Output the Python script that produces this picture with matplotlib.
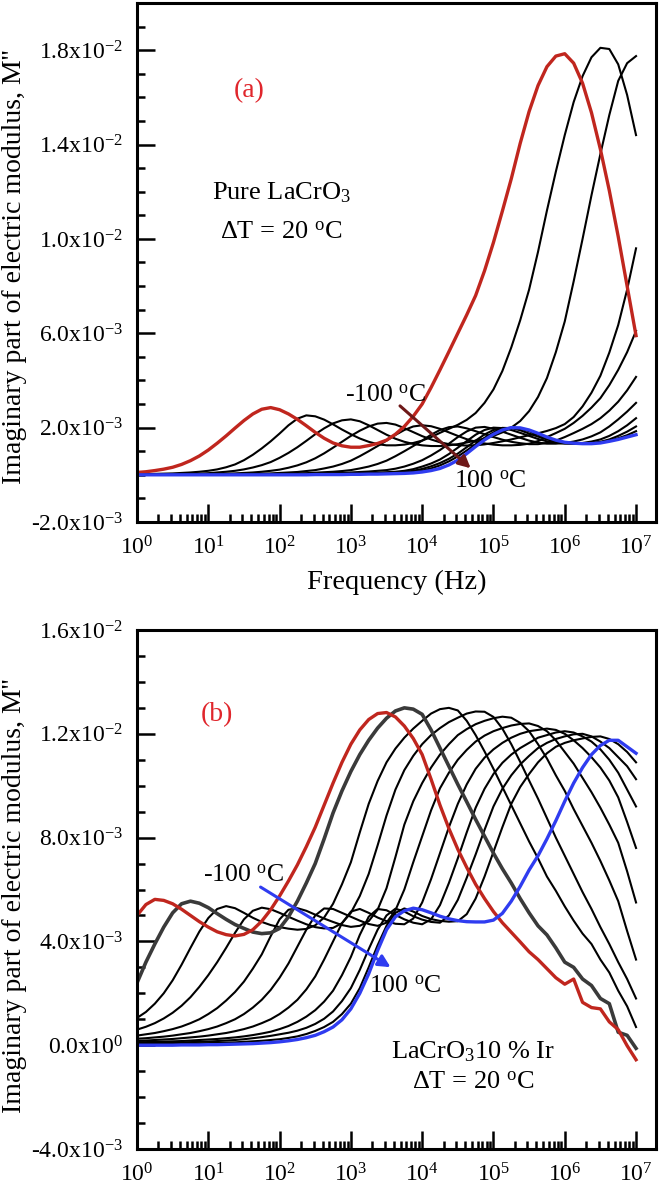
import matplotlib
matplotlib.use('Agg')
import matplotlib.pyplot as plt
import numpy as np
from matplotlib.ticker import FixedLocator, FixedFormatter, MultipleLocator, LogLocator, NullFormatter

plt.rcParams['font.family'] = ['Liberation Serif', 'DejaVu Serif']
plt.rcParams['mathtext.fontset'] = 'custom'
plt.rcParams['mathtext.rm'] = 'Liberation Serif'
plt.rcParams['mathtext.it'] = 'Liberation Serif:italic'
plt.rcParams['mathtext.bf'] = 'Liberation Serif:bold'

temps = [-100, -80, -60, -40, -20, 0, 20, 40, 60, 80, 100]

# measurement frequencies, log10(f / Hz), shared by both panels
logf = [0.0, 0.125, 0.25, 0.375, 0.5, 0.625, 0.75, 0.875,
        1.0, 1.125, 1.25, 1.375, 1.5, 1.625, 1.75, 1.875,
        2.0, 2.125, 2.25, 2.375, 2.5, 2.625, 2.75, 2.875,
        3.0, 3.125, 3.25, 3.375, 3.5, 3.625, 3.75, 3.875,
        4.0, 4.125, 4.25, 4.375, 4.5, 4.625, 4.75, 4.875,
        5.0, 5.125, 5.25, 5.375, 5.5, 5.625, 5.75, 5.875,
        6.0, 6.125, 6.25, 6.375, 6.5, 6.625, 6.75, 6.875,
        7.0]

# ---- panel (a): pure LaCrO3, M'' in units of 1e-3
a_m100 = [0.10, 0.13, 0.18, 0.24, 0.32, 0.44, 0.60, 0.80,
          1.05, 1.34, 1.65, 1.98, 2.30, 2.58, 2.78, 2.85,
          2.76, 2.58, 2.35, 2.08, 1.80, 1.55, 1.35, 1.23,
          1.17, 1.17, 1.24, 1.33, 1.47, 1.72, 2.05, 2.48,
          3.00, 3.70, 4.45, 5.22, 6.00, 6.78, 7.60, 8.65,
          9.85, 11.18, 12.55, 14.05, 15.40, 16.50, 17.30, 17.75,
          17.85, 17.45, 16.60, 15.35, 13.80, 12.05, 10.10, 8.00,
          5.90]
a_m80 = [0.03, 0.03, 0.04, 0.05, 0.06, 0.08, 0.10, 0.13,
         0.17, 0.23, 0.32, 0.44, 0.62, 0.85, 1.12, 1.42,
         1.75, 2.10, 2.38, 2.52, 2.48, 2.34, 2.14, 1.92,
         1.72, 1.54, 1.40, 1.30, 1.25, 1.25, 1.28, 1.35,
         1.45, 1.60, 1.78, 1.95, 2.12, 2.33, 2.62, 3.05,
         3.62, 4.40, 5.40, 6.55, 7.85, 9.45, 11.20, 12.85,
         14.40, 15.80, 16.90, 17.70, 18.10, 18.05, 17.40, 16.10,
         14.40]
a_m60 = [0.00, 0.00, 0.01, 0.01, 0.02, 0.03, 0.04, 0.05,
         0.07, 0.10, 0.13, 0.17, 0.23, 0.31, 0.41, 0.54,
         0.72, 0.93, 1.17, 1.44, 1.72, 1.97, 2.18, 2.31,
         2.35, 2.27, 2.10, 1.90, 1.70, 1.53, 1.40, 1.31,
         1.25, 1.22, 1.22, 1.25, 1.30, 1.37, 1.45, 1.54,
         1.65, 1.80, 2.00, 2.28, 2.70, 3.30, 4.10, 5.20,
         6.50, 8.20, 10.00, 11.85, 13.60, 15.25, 16.70, 17.45,
         17.75]
a_m40 = [0.00, 0.00, 0.00, 0.00, 0.01, 0.01, 0.02, 0.02,
         0.03, 0.04, 0.05, 0.06, 0.08, 0.10, 0.13, 0.17,
         0.22, 0.30, 0.40, 0.53, 0.70, 0.91, 1.15, 1.40,
         1.65, 1.87, 2.05, 2.17, 2.20, 2.13, 1.98, 1.81,
         1.64, 1.50, 1.38, 1.30, 1.26, 1.24, 1.25, 1.29,
         1.35, 1.42, 1.50, 1.59, 1.68, 1.76, 1.86, 1.98,
         2.15, 2.45, 2.90, 3.48, 4.20, 5.18, 6.35, 7.85,
         9.60]
a_m20 = [0.00, 0.00, 0.00, 0.00, 0.00, 0.01, 0.01, 0.01,
         0.01, 0.02, 0.02, 0.03, 0.03, 0.04, 0.05, 0.06,
         0.08, 0.10, 0.12, 0.16, 0.20, 0.27, 0.35, 0.46,
         0.60, 0.79, 1.00, 1.22, 1.45, 1.69, 1.90, 2.05,
         2.10, 2.06, 1.95, 1.80, 1.65, 1.51, 1.40, 1.33,
         1.28, 1.25, 1.25, 1.27, 1.32, 1.43, 1.60, 1.77,
         1.95, 2.20, 2.50, 2.85, 3.25, 3.80, 4.45, 5.20,
         6.10]
a_0 = [0.00, 0.00, 0.00, 0.00, 0.00, 0.00, 0.00, 0.01,
       0.01, 0.01, 0.01, 0.02, 0.02, 0.02, 0.03, 0.03,
       0.04, 0.05, 0.06, 0.07, 0.09, 0.11, 0.13, 0.16,
       0.20, 0.27, 0.35, 0.46, 0.60, 0.79, 1.00, 1.22,
       1.45, 1.70, 1.90, 2.02, 2.05, 1.97, 1.85, 1.72,
       1.60, 1.49, 1.40, 1.34, 1.30, 1.30, 1.35, 1.45,
       1.60, 1.77, 1.95, 2.15, 2.40, 2.72, 3.10, 3.58,
       4.15]
a_20 = [0.00, 0.00, 0.00, 0.00, 0.00, 0.00, 0.00, 0.00,
        0.00, 0.00, 0.01, 0.01, 0.01, 0.01, 0.02, 0.02,
        0.03, 0.03, 0.04, 0.04, 0.05, 0.06, 0.07, 0.08,
        0.10, 0.12, 0.14, 0.17, 0.20, 0.26, 0.35, 0.47,
        0.62, 0.82, 1.05, 1.32, 1.60, 1.84, 2.00, 2.03,
        1.95, 1.83, 1.70, 1.57, 1.45, 1.37, 1.32, 1.32,
        1.35, 1.41, 1.50, 1.63, 1.80, 2.05, 2.35, 2.68,
        3.05]
a_40 = [0.00, 0.00, 0.00, 0.00, 0.00, 0.00, 0.00, 0.00,
        0.00, 0.00, 0.00, 0.00, 0.01, 0.01, 0.01, 0.01,
        0.02, 0.02, 0.03, 0.03, 0.04, 0.04, 0.05, 0.05,
        0.06, 0.07, 0.08, 0.09, 0.11, 0.13, 0.17, 0.24,
        0.35, 0.48, 0.65, 0.88, 1.15, 1.43, 1.70, 1.90,
        2.00, 1.98, 1.90, 1.78, 1.65, 1.52, 1.42, 1.36,
        1.32, 1.32, 1.35, 1.41, 1.50, 1.65, 1.85, 2.10,
        2.40]
a_60 = [0.00, 0.00, 0.00, 0.00, 0.00, 0.00, 0.00, 0.00,
        0.00, 0.00, 0.00, 0.00, 0.00, 0.00, 0.01, 0.01,
        0.01, 0.01, 0.02, 0.02, 0.03, 0.03, 0.04, 0.04,
        0.05, 0.05, 0.06, 0.07, 0.08, 0.10, 0.12, 0.17,
        0.25, 0.36, 0.50, 0.68, 0.90, 1.17, 1.45, 1.71,
        1.90, 1.99, 1.98, 1.89, 1.75, 1.62, 1.50, 1.41,
        1.35, 1.32, 1.32, 1.35, 1.40, 1.50, 1.65, 1.83,
        2.05]
a_80 = [0.00, 0.00, 0.00, 0.00, 0.00, 0.00, 0.00, 0.00,
        0.00, 0.00, 0.00, 0.00, 0.00, 0.00, 0.00, 0.00,
        0.01, 0.01, 0.01, 0.01, 0.02, 0.02, 0.03, 0.03,
        0.04, 0.04, 0.05, 0.05, 0.06, 0.07, 0.09, 0.12,
        0.18, 0.27, 0.40, 0.57, 0.78, 1.03, 1.30, 1.57,
        1.80, 1.95, 2.00, 1.95, 1.85, 1.70, 1.55, 1.45,
        1.38, 1.34, 1.32, 1.33, 1.38, 1.45, 1.55, 1.68,
        1.85]
a_100 = [0.00, 0.00, 0.00, 0.00, 0.00, 0.00, 0.00, 0.00,
         0.00, 0.00, 0.00, 0.00, 0.00, 0.00, 0.00, 0.00,
         0.00, 0.00, 0.00, 0.00, 0.01, 0.01, 0.01, 0.01,
         0.02, 0.02, 0.03, 0.03, 0.04, 0.05, 0.06, 0.08,
         0.12, 0.18, 0.27, 0.42, 0.62, 0.90, 1.20, 1.48,
         1.72, 1.90, 2.00, 1.99, 1.90, 1.76, 1.60, 1.47,
         1.38, 1.34, 1.32, 1.32, 1.35, 1.42, 1.50, 1.60,
         1.70]

# ---- panel (b): LaCrO3 10 % Ir, M'' in units of 1e-3
b_m100 = [5.00, 5.42, 5.62, 5.58, 5.45, 5.24, 5.00, 4.76,
          4.55, 4.37, 4.26, 4.21, 4.27, 4.45, 4.78, 5.22,
          5.75, 6.33, 6.95, 7.65, 8.40, 9.25, 10.10, 10.90,
          11.60, 12.15, 12.55, 12.78, 12.82, 12.65, 12.30, 11.82,
          11.20, 10.25, 9.25, 8.35, 7.55, 6.85, 6.20, 5.65,
          5.15, 4.72, 4.35, 3.98, 3.60, 3.30, 2.95, 2.60,
          2.35, 2.55, 1.65, 1.45, 1.40, 0.90, 0.60, -0.02,
          -0.56]
b_m80 = [2.40, 3.20, 3.90, 4.55, 5.10, 5.45, 5.55, 5.47,
         5.30, 5.07, 4.85, 4.65, 4.50, 4.36, 4.30, 4.33,
         4.50, 4.95, 5.55, 6.25, 7.00, 7.95, 8.95, 9.80,
         10.55, 11.20, 11.75, 12.22, 12.60, 12.88, 13.00, 12.95,
         12.75, 12.15, 11.45, 10.75, 10.05, 9.38, 8.70, 8.05,
         7.40, 6.80, 6.25, 5.65, 5.10, 4.60, 4.25, 3.75,
         3.20, 3.00, 2.55, 2.30, 1.80, 1.60, 0.50, 0.38,
         -0.12]
b_m60 = [1.05, 1.28, 1.60, 2.00, 2.50, 3.10, 3.75, 4.38,
         4.90, 5.25, 5.36, 5.28, 5.10, 4.91, 4.75, 4.63,
         4.55, 4.49, 4.45, 4.48, 4.62, 4.92, 5.45, 6.20,
         7.05, 8.20, 9.30, 10.18, 10.90, 11.43, 11.85, 12.20,
         12.50, 12.78, 12.95, 13.00, 12.90, 12.50, 11.95, 11.32,
         10.65, 9.95, 9.25, 8.55, 7.85, 7.20, 6.50, 5.95,
         5.35, 4.80, 4.30, 3.90, 3.30, 2.80, 2.10, 1.50,
         0.70]
b_m40 = [0.60, 0.71, 0.85, 1.03, 1.25, 1.52, 1.85, 2.25,
         2.70, 3.20, 3.75, 4.33, 4.85, 5.18, 5.30, 5.24,
         5.10, 4.95, 4.80, 4.66, 4.55, 4.50, 4.52, 4.70,
         5.10, 5.75, 6.60, 7.70, 8.85, 9.85, 10.60, 11.15,
         11.60, 11.95, 12.22, 12.45, 12.62, 12.78, 12.86, 12.85,
         12.65, 12.20, 11.60, 10.92, 10.20, 9.50, 8.75, 8.00,
         7.30, 6.60, 5.90, 5.25, 4.55, 3.90, 3.20, 2.55,
         1.80]
b_m20 = [0.37, 0.42, 0.47, 0.54, 0.62, 0.72, 0.85, 1.00,
         1.20, 1.43, 1.72, 2.05, 2.45, 2.95, 3.50, 4.20,
         4.85, 5.22, 5.28, 5.18, 5.03, 4.88, 4.75, 4.63,
         4.56, 4.60, 4.78, 5.22, 6.05, 7.25, 8.50, 9.40,
         10.10, 10.70, 11.20, 11.60, 11.95, 12.18, 12.37, 12.50,
         12.60, 12.66, 12.62, 12.42, 12.10, 11.60, 11.05, 10.40,
         9.80, 9.10, 8.45, 7.80, 7.10, 6.35, 5.55, 4.40,
         3.30]
b_0 = [0.25, 0.27, 0.30, 0.33, 0.37, 0.42, 0.47, 0.54,
       0.62, 0.72, 0.85, 1.00, 1.20, 1.45, 1.75, 2.13,
       2.60, 3.15, 3.80, 4.45, 5.00, 5.27, 5.25, 5.10,
       4.95, 4.80, 4.67, 4.60, 4.72, 5.20, 6.00, 7.05,
       8.05, 9.05, 9.90, 10.50, 11.00, 11.38, 11.70, 11.93,
       12.10, 12.22, 12.32, 12.38, 12.40, 12.30, 12.10, 11.75,
       11.30, 10.85, 10.30, 9.75, 9.15, 8.50, 7.80, 6.70,
       5.50]
b_20 = [0.17, 0.18, 0.20, 0.22, 0.24, 0.27, 0.30, 0.33,
        0.37, 0.42, 0.47, 0.54, 0.62, 0.72, 0.85, 1.00,
        1.20, 1.45, 1.75, 2.15, 2.65, 3.30, 4.00, 4.70,
        5.15, 5.25, 5.10, 4.92, 4.78, 4.68, 4.66, 4.88,
        5.50, 6.40, 7.40, 8.40, 9.30, 10.05, 10.65, 11.08,
        11.40, 11.65, 11.85, 12.00, 12.10, 12.15, 12.20, 12.15,
        12.00, 11.75, 11.45, 11.10, 10.70, 10.20, 9.55, 8.60,
        7.60]
b_40 = [0.12, 0.12, 0.13, 0.14, 0.15, 0.16, 0.18, 0.20,
        0.22, 0.24, 0.27, 0.30, 0.34, 0.39, 0.45, 0.52,
        0.62, 0.74, 0.90, 1.10, 1.35, 1.68, 2.10, 2.70,
        3.40, 4.25, 4.95, 5.25, 5.20, 5.02, 4.85, 4.72,
        4.66, 4.85, 5.40, 6.25, 7.20, 8.20, 9.15, 9.88,
        10.45, 10.88, 11.20, 11.45, 11.65, 11.85, 11.95, 12.05,
        12.10, 12.05, 11.90, 11.70, 11.40, 11.00, 10.50, 9.85,
        9.20]
b_60 = [0.08, 0.08, 0.09, 0.09, 0.10, 0.11, 0.12, 0.13,
        0.14, 0.16, 0.18, 0.20, 0.23, 0.27, 0.31, 0.36,
        0.42, 0.48, 0.56, 0.67, 0.82, 1.02, 1.30, 1.70,
        2.20, 2.90, 3.70, 4.45, 5.00, 5.26, 5.15, 4.97,
        4.84, 4.75, 4.72, 5.00, 5.60, 6.45, 7.35, 8.30,
        9.20, 9.88, 10.40, 10.82, 11.15, 11.45, 11.65, 11.80,
        11.90, 11.98, 12.00, 11.90, 11.70, 11.45, 11.10, 10.75,
        10.25]
b_80 = [0.05, 0.05, 0.05, 0.06, 0.06, 0.06, 0.07, 0.07,
        0.08, 0.09, 0.10, 0.11, 0.13, 0.15, 0.17, 0.20,
        0.23, 0.28, 0.34, 0.43, 0.55, 0.70, 0.90, 1.20,
        1.60, 2.20, 3.00, 3.85, 4.60, 5.10, 5.27, 5.15,
        4.98, 4.86, 4.79, 4.76, 4.78, 5.05, 5.65, 6.50,
        7.45, 8.40, 9.30, 9.95, 10.45, 10.90, 11.25, 11.50,
        11.65, 11.75, 11.82, 11.88, 11.90, 11.80, 11.60, 11.30,
        10.90]
b_100 = [0.00, 0.00, 0.00, 0.00, 0.00, 0.01, 0.01, 0.01,
         0.02, 0.02, 0.03, 0.04, 0.05, 0.06, 0.08, 0.10,
         0.13, 0.17, 0.22, 0.29, 0.38, 0.52, 0.70, 0.98,
         1.40, 2.00, 2.75, 3.65, 4.45, 4.95, 5.18, 5.28,
         5.22, 5.10, 4.97, 4.87, 4.80, 4.76, 4.75, 4.75,
         4.82, 5.08, 5.55, 6.12, 6.75, 7.30, 7.95, 8.65,
         9.40, 10.10, 10.70, 11.20, 11.55, 11.75, 11.75, 11.50,
         11.25]

series_a = [a_m100, a_m80, a_m60, a_m40, a_m20, a_0, a_20, a_40, a_60, a_80, a_100]
series_b = [b_m100, b_m80, b_m60, b_m40, b_m20, b_0, b_20, b_40, b_60, b_80, b_100]

xtick_exp = [0, 1, 2, 3, 4, 5, 6, 7]
yticks_a = [-2e-3, 2e-3, 6e-3, 10e-3, 14e-3, 18e-3]
ylabels_a = [r'-2.0x10$^{-3}$', r'2.0x10$^{-3}$', r'6.0x10$^{-3}$',
             r'1.0x10$^{-2}$', r'1.4x10$^{-2}$', r'1.8x10$^{-2}$']
yticks_b = [-4e-3, 0.0, 4e-3, 8e-3, 12e-3, 16e-3]
ylabels_b = [r'-4.0x10$^{-3}$', r'0.0x10$^{0}$', r'4.0x10$^{-3}$',
             r'8.0x10$^{-3}$', r'1.2x10$^{-2}$', r'1.6x10$^{-2}$']

RED = '#C0261E'
BLUE = '#2F3CF0'
DGREY = '#3A3A3A'
LABEL_RED = '#E0262C'
MAROON = '#6E1818'
DEG = r'$^{\mathrm{o}}$C'


def style_axis(ax, yticks, ylabels, ylim):
    ax.set_xscale('log')
    ax.set_xlim(1, 10 ** 7.28)
    ax.set_ylim(*ylim)
    ax.xaxis.set_major_locator(FixedLocator([10.0 ** k for k in xtick_exp]))
    ax.xaxis.set_major_formatter(FixedFormatter([r'10$^{%d}$' % k for k in xtick_exp]))
    ax.xaxis.set_minor_locator(LogLocator(base=10, subs=np.arange(2, 10), numticks=30))
    ax.xaxis.set_minor_formatter(NullFormatter())
    ax.yaxis.set_major_locator(FixedLocator(yticks))
    ax.yaxis.set_major_formatter(FixedFormatter(ylabels))
    ax.yaxis.set_minor_locator(MultipleLocator(1e-3))
    ax.tick_params(which='both', direction='in', top=False, right=False, width=1.8,
                   labelsize=17, pad=10)
    ax.tick_params(which='major', length=13)
    ax.tick_params(which='minor', length=6)
    for s in ax.spines.values():
        s.set_linewidth(2.2)


fig = plt.figure(figsize=(6.61, 11.89), dpi=100)
ax1 = fig.add_axes([137 / 661, 1 - 522 / 1189, 519 / 661, 519 / 1189])
ax2 = fig.add_axes([137 / 661, 1 - 1149 / 1189, 519 / 661, 519 / 1189])

freq = 10.0 ** np.array(logf)

# panel (a)
for t, vals in zip(temps, series_a):
    if t in (-100, 100):
        continue
    ax1.plot(freq, np.array(vals) * 1e-3, color='black', lw=1.5)
ax1.plot(freq, np.array(a_m100) * 1e-3, color=RED, lw=2.4)
ax1.plot(freq, np.array(a_100) * 1e-3, color=BLUE, lw=2.4)
style_axis(ax1, yticks_a, ylabels_a, (-2e-3, 20e-3))

ax1.text(10 ** 1.57, 16.3e-3, '(a)', color=LABEL_RED, fontsize=20, ha='center', va='center')
ax1.text(10 ** 2.02, 11.94e-3, r'Pure LaCrO$_{3}$', fontsize=19, ha='center', va='center')
ax1.text(10 ** 2.02, 10.25e-3, r'$\Delta$T = 20 ' + DEG, fontsize=19, ha='center', va='center')
ax1.text(10 ** 3.49, 3.35e-3, '-100 ' + DEG, fontsize=18.5, ha='center', va='center')
ax1.text(10 ** 4.95, -0.3e-3, '100 ' + DEG, fontsize=18.5, ha='center', va='center')
ax1.annotate('', xy=(10 ** 4.71, 0.2e-3), xytext=(10 ** 3.66, 3.0e-3),
             arrowprops=dict(arrowstyle='-|>', color=MAROON, lw=2.2, mutation_scale=18))

# panel (b)
for t, vals in zip(temps, series_b):
    if t in (-100, -80, 100):
        continue
    ax2.plot(freq, np.array(vals) * 1e-3, color='black', lw=1.5)
ax2.plot(freq, np.array(b_m80) * 1e-3, color=DGREY, lw=2.6)
ax2.plot(freq, np.array(b_m100) * 1e-3, color=RED, lw=2.4)
ax2.plot(freq, np.array(b_100) * 1e-3, color=BLUE, lw=2.4)
style_axis(ax2, yticks_b, ylabels_b, (-4e-3, 16e-3))

ax2.text(10 ** 1.12, 12.74e-3, '(b)', color=LABEL_RED, fontsize=20, ha='center', va='center')
ax2.text(10 ** 1.49, 6.52e-3, '-100 ' + DEG, fontsize=18.5, ha='center', va='center')
ax2.text(10 ** 3.76, 2.26e-3, '100 ' + DEG, fontsize=18.5, ha='center', va='center')
ax2.annotate('', xy=(10 ** 3.59, 2.95e-3), xytext=(10 ** 1.7, 6.15e-3),
             arrowprops=dict(arrowstyle='-|>', color=BLUE, lw=2.2, mutation_scale=18))
ax2.text(10 ** 4.71, -0.24e-3, r'LaCrO$_{3}$10 % Ir', fontsize=19, ha='center', va='center')
ax2.text(10 ** 4.71, -1.46e-3, r'$\Delta$T = 20 ' + DEG, fontsize=19, ha='center', va='center')

# shared labels
ylab = "Imaginary part of electric modulus, M''"
fig.text(15 / 661, 1 - 267 / 1189, ylab, rotation=90, ha='center', va='center', fontsize=20)
fig.text(15 / 661, 1 - 896 / 1189, ylab, rotation=90, ha='center', va='center', fontsize=20)
fig.text(397 / 661, 1 - 582 / 1189, 'Frequency (Hz)', ha='center', va='center', fontsize=20.5)

fig.savefig('out.png', dpi=100)
